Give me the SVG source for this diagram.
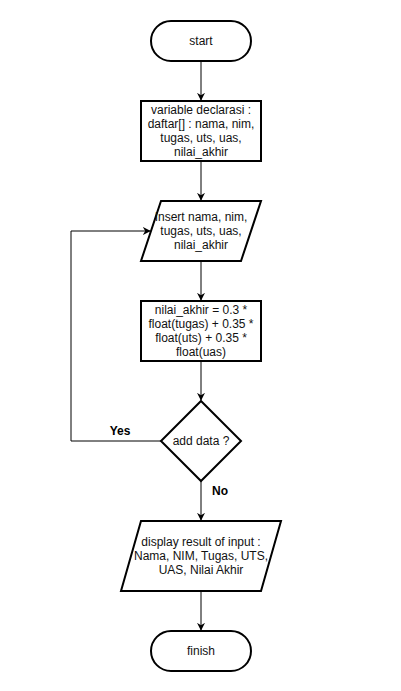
<svg xmlns="http://www.w3.org/2000/svg" width="401" height="691" viewBox="0 0 401 691">
<style>
.shape{fill:#fff;stroke:#000;stroke-width:2}
.line{fill:none;stroke:#000;stroke-width:1}
text{font-family:"Liberation Sans",Arial,sans-serif;font-size:12px;fill:#111;text-anchor:middle}
.lbl{font-weight:bold;fill:#000}
</style>
<defs>
<marker id="arr" viewBox="0 0 10 10" refX="9" refY="5" markerWidth="8" markerHeight="8" markerUnits="userSpaceOnUse" orient="auto">
<path d="M0,0 L10,5 L0,10 L3,5 Z" fill="#000"/>
</marker>
</defs>
<rect width="401" height="691" fill="#fff"/>
<g id="connectors">
<path class="line" d="M201,61 V100" marker-end="url(#arr)"/>
<path class="line" d="M201,161 V200" marker-end="url(#arr)"/>
<path class="line" d="M201,261 V300" marker-end="url(#arr)"/>
<path class="line" d="M201,361 V400" marker-end="url(#arr)"/>
<path class="line" d="M161,441 H71 V231 H150" marker-end="url(#arr)"/>
<path class="line" d="M201,481 V520" marker-end="url(#arr)"/>
<path class="line" d="M201,591 V630" marker-end="url(#arr)"/>
<text class="lbl" x="120" y="435">Yes</text>
<text class="lbl" x="220" y="495">No</text>
</g>
<g id="start">
<rect class="shape" x="151" y="21" width="100" height="40" rx="20" ry="20"/>
<text x="201" y="45">start</text>
</g>
<g id="declare">
<rect class="shape" x="141" y="101" width="120" height="60"/>
<text x="201" y="114">variable declarasi :</text>
<text x="201" y="128">daftar[] : nama, nim,</text>
<text x="201" y="142">tugas, uts, uas,</text>
<text x="201" y="156">nilai_akhir</text>
</g>
<g id="input">
<polygon class="shape" points="161,201 261,201 241,261 141,261"/>
<text x="201" y="221">Insert nama, nim,</text>
<text x="201" y="235">tugas, uts, uas,</text>
<text x="201" y="249">nilai_akhir</text>
</g>
<g id="compute">
<rect class="shape" x="141" y="301" width="120" height="60"/>
<text x="201" y="314">nilai_akhir = 0.3 *</text>
<text x="201" y="328">float(tugas) + 0.35 *</text>
<text x="201" y="342">float(uts) + 0.35 *</text>
<text x="201" y="356">float(uas)</text>
</g>
<g id="decision">
<polygon class="shape" points="201,401 241,441 201,481 161,441"/>
<text x="201" y="445">add data ?</text>
</g>
<g id="output">
<polygon class="shape" points="141,521 281,521 261,591 121,591"/>
<text x="201" y="546">display result of input :</text>
<text x="201" y="560">Nama, NIM, Tugas, UTS,</text>
<text x="201" y="574">UAS, Nilai Akhir</text>
</g>
<g id="finish">
<rect class="shape" x="151" y="631" width="100" height="40" rx="20" ry="20"/>
<text x="201" y="655">finish</text>
</g>
</svg>
